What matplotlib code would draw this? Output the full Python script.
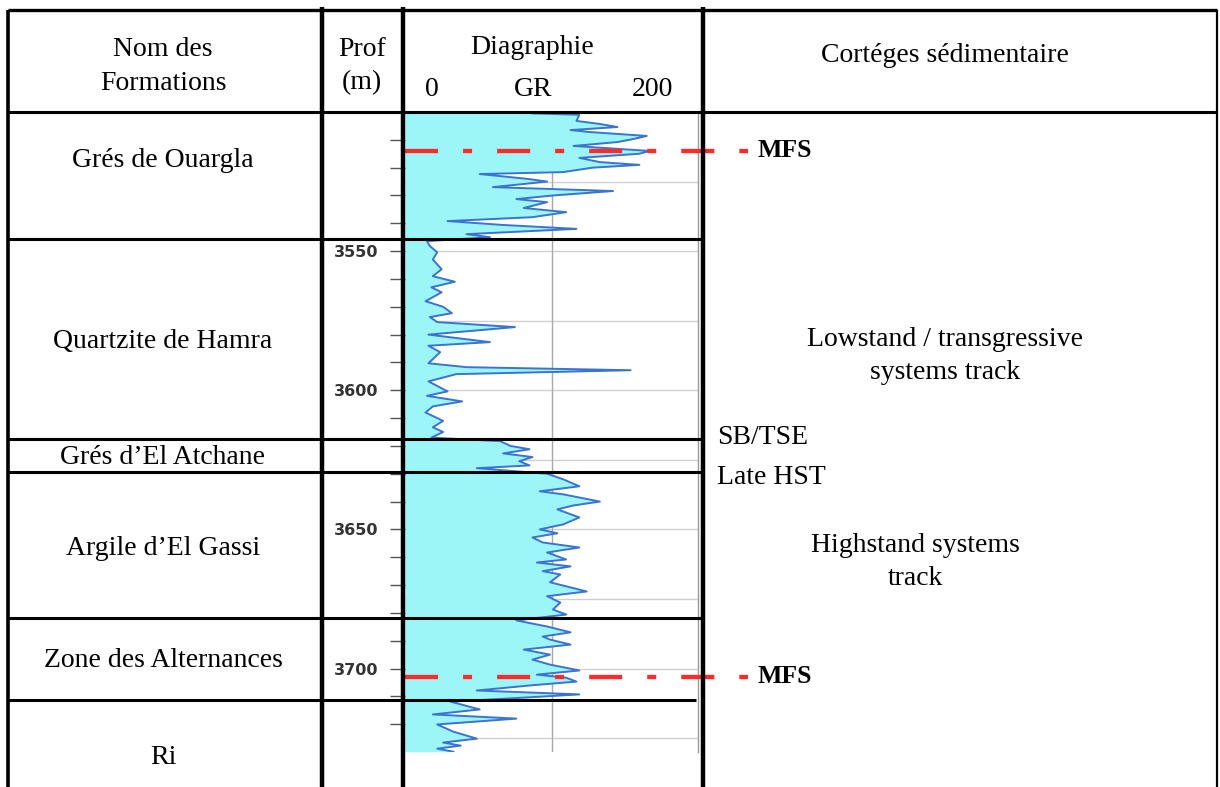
import matplotlib.pyplot as plt
from matplotlib.transforms import blended_transform_factory

plt.rcParams['font.family'] = ['Liberation Serif', 'DejaVu Serif']
plt.rcParams['lines.scale_dashes'] = False

# GR log (depth in m, GR in API)
depth = [3500.5, 3501.0, 3503.2, 3504.3, 3505.4, 3506.5, 3507.2, 3508.6, 3509.7, 3510.8,
         3512.2, 3514.0, 3515.0, 3516.5, 3518.0, 3519.0, 3520.0, 3521.6, 3522.3, 3524.0,
         3525.0, 3527.0, 3528.4, 3530.0, 3531.3, 3532.4, 3534.5, 3536.0, 3537.8, 3539.2,
         3540.6, 3542.0, 3543.9, 3545.0,
         3546.4, 3548.2, 3550.4, 3553.0, 3556.5, 3559.0, 3561.0, 3563.0, 3564.8, 3568.0,
         3570.0, 3572.3, 3573.7, 3575.5, 3577.3, 3580.0, 3582.7, 3584.0, 3586.3, 3590.3,
         3591.7, 3592.8, 3594.2, 3596.8, 3600.4, 3602.0, 3604.0, 3605.8, 3608.0, 3611.0,
         3613.3, 3615.0, 3617.0,
         3618.3, 3620.0, 3621.2, 3622.7, 3624.0, 3625.5, 3627.0, 3628.0, 3630.0, 3632.0,
         3634.5, 3636.3, 3637.4, 3640.0, 3641.4, 3642.8, 3645.7, 3648.2, 3650.0, 3651.4,
         3652.9, 3654.7, 3656.5, 3658.3, 3660.8, 3661.9, 3663.3, 3665.0, 3666.2, 3669.0,
         3672.3, 3674.0, 3676.3, 3678.8, 3680.6,
         3682.7, 3684.9, 3687.0, 3688.5, 3689.6, 3691.4, 3693.2, 3695.0, 3696.8, 3698.6,
         3700.7, 3702.2, 3703.3, 3704.7, 3706.0, 3707.9, 3709.3, 3710.4, 3711.9, 3714.7,
         3716.5, 3718.0, 3720.1, 3722.7, 3725.2, 3726.6, 3727.7, 3728.8, 3729.9]
gr = [87, 119, 117, 133, 145, 113, 126, 165, 156, 145,
      115, 167, 160, 119, 133, 160, 128, 108, 51, 83,
      97, 60, 142, 101, 76, 97, 81, 110, 87, 29,
      67, 117, 42, 58,
      15, 17, 22, 19, 25, 19, 34, 18, 25, 14,
      26, 32, 17, 22, 75, 16, 58, 16, 24, 16,
      42, 154, 35, 16, 29, 15, 39, 19, 14, 26,
      19, 26, 18,
      65, 72, 85, 67, 87, 78, 85, 49, 97, 108,
      119, 92, 108, 133, 115, 104, 119, 108, 92, 104,
      87, 94, 119, 97, 110, 90, 113, 94, 106, 99,
      124, 97, 106, 101, 110,
      76, 97, 113, 94, 99, 113, 81, 99, 87, 99,
      119, 90, 110, 117, 87, 49, 119, 83, 31, 51,
      19, 76, 22, 33, 49, 26, 38, 22, 33]

formations = ['Grés de Ouargla', 'Quartzite de Hamra', 'Grés d\u2019El Atchane',
              'Argile d\u2019El Gassi', 'Zone des Alternances', 'Ri']
formation_label_depth = [3517.3, 3582.3, 3624.0, 3656.7, 3697.0, 3731.8]
formation_bottoms = [3545.7, 3617.6, 3629.5, 3681.7, 3711.2]
mfs_depths = [3514.0, 3703.0]
depth_labels = [3550, 3600, 3650, 3700]

fig = plt.figure(figsize=(12.2, 7.87), dpi=100)
W, H = 1220, 787

# log track
log = fig.add_axes([405 / W, (H - 752) / H, (698 - 405) / W, (752 - 112) / H])
log.set_xlim(0, 200)
log.set_ylim(3730, 3500)
for g in range(3525, 3730, 25):
    log.axhline(g, color='#d0d0d0', lw=1, zorder=0)
log.axvline(100, color='#a8a8a8', lw=1, zorder=0)
log.fill_betweenx(depth, 0, gr, color='#9cf6f8', lw=0, zorder=1)
log.plot(gr, depth, color='#3a74d0', lw=1.4, zorder=2)
log.set_yticks(depth_labels)
log.set_yticks([d for d in range(3500, 3730, 10) if d not in depth_labels], minor=True)
log.set_yticklabels([str(d) for d in depth_labels], fontfamily='DejaVu Sans',
                    fontweight='bold', fontsize=11.5, color='#333333')
log.tick_params(axis='y', which='both', length=11, width=1, color='#555555', pad=8)
log.set_xticks([])
for s in ['top', 'left', 'bottom']:
    log.spines[s].set_visible(False)
log.spines['right'].set_color('#999999')
log.spines['right'].set_linewidth(1)

# overlay for the table, in pixel coordinates
over = fig.add_axes([0, 0, 1, 1], zorder=5)
over.set_xlim(0, W)
over.set_ylim(H, 0)
over.patch.set_alpha(0)
over.axis('off')
trans = blended_transform_factory(over.transData, log.transData)

# MFS surfaces
for d in mfs_depths:
    over.plot([405, 748], [d, d], transform=trans, color='#ff2a2a', lw=3.1,
              dashes=(23.8, 18, 6.5, 18), solid_capstyle='butt', dash_capstyle='butt', zorder=2)
    over.text(757, d, 'MFS', transform=trans, fontsize=18.5, fontweight='bold',
              va='center', ha='left', zorder=4)

# table frame
k = dict(color='black', zorder=3, solid_capstyle='butt')
over.plot([8, 1217], [10, 10], lw=2.4, **k)
over.plot([8, 1217], [112, 112], lw=2.2, **k)
over.plot([8, 8], [10, H], lw=2.6, **k)
over.plot([1217, 1217], [10, H], lw=1.6, **k)
for x in [322, 403, 703]:
    over.plot([x, x], [7, H], lw=3.2, **k)
for i, d in enumerate(formation_bottoms):
    x_end = 696 if i == len(formation_bottoms) - 1 else 703
    over.plot([8, x_end], [d, d], transform=trans, lw=2.2, **k)

# header
fs = 20
over.text(163, 50, 'Nom des', fontsize=fs, ha='center', va='center')
over.text(163, 83, 'Formations', fontsize=fs, ha='center', va='center')
over.text(362, 50, 'Prof', fontsize=fs, ha='center', va='center')
over.text(362, 83, '(m)', fontsize=fs, ha='center', va='center')
over.text(532, 48, 'Diagraphie', fontsize=fs, ha='center', va='center')
over.text(432, 90, '0', fontsize=fs, ha='center', va='center')
over.text(533, 90, 'GR', fontsize=fs, ha='center', va='center')
over.text(652, 90, '200', fontsize=fs, ha='center', va='center')
over.text(945, 55, 'Cortéges sédimentaire', fontsize=fs, ha='center', va='center')

# formation names
for name, d in zip(formations, formation_label_depth):
    over.text(163, d, name, transform=trans, fontsize=fs, ha='center', va='center', clip_on=False)

# systems tracts
over.text(945, 3587.7, 'Lowstand / transgressive\nsystems track', transform=trans,
          fontsize=fs, ha='center', va='center', linespacing=1.45)
over.text(717, 3616.8, 'SB/TSE', transform=trans, fontsize=fs, ha='left', va='center')
over.text(717, 3631.5, 'Late HST', transform=trans, fontsize=fs, ha='left', va='center')
over.text(915, 3661.7, 'Highstand systems\ntrack', transform=trans,
          fontsize=fs, ha='center', va='center', linespacing=1.45)

fig.savefig('out.png', dpi=100)
